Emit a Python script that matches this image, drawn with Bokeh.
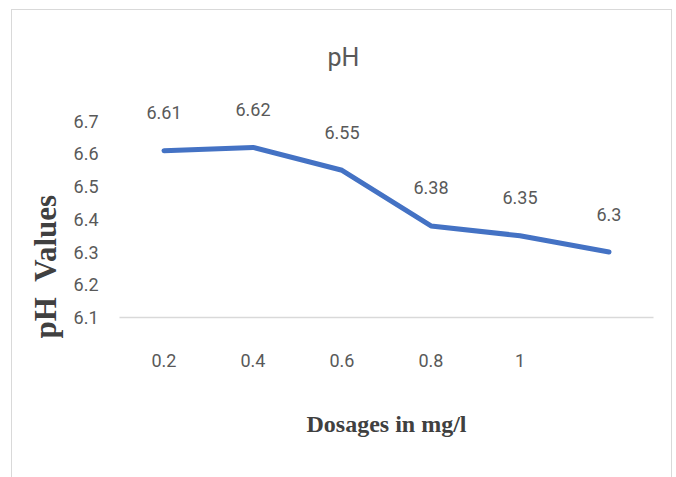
from bokeh.plotting import figure
from bokeh.models import ColumnDataSource, LabelSet, FixedTicker, Title
from bokeh.core.properties import value
from bokeh.embed import file_html
from bokeh.resources import INLINE

# Dosage categories (last point carries no tick label) and measured pH
dosages = ["0.2", "0.4", "0.6", "0.8", "1", " "]
ph_values = [6.61, 6.62, 6.55, 6.38, 6.35, 6.30]
ph_labels = ["6.61", "6.62", "6.55", "6.38", "6.35", "6.3"]
y_ticks = [6.1, 6.2, 6.3, 6.4, 6.5, 6.6, 6.7]

SANS = "Roboto"
SERIF = "Liberation Serif"
GREY_TXT = "#595959"
AXIS_TXT = "#404040"
FRAME_GREY = "#D9D9D9"

src = ColumnDataSource(dict(x=dosages, y=ph_values, lab=ph_labels))

# the y range runs a little above the top tick so the value labels have room
p = figure(width=661, height=468, x_range=dosages, y_range=(6.1, 6.8),
           output_backend="svg", toolbar_location=None,
           min_border_left=107, min_border_right=20,
           min_border_top=78, min_border_bottom=161,
           margin=(9, 0, 0, 11),
           styles={"border-top": f"1.5px solid {FRAME_GREY}",
                   "border-left": f"1.5px solid {FRAME_GREY}",
                   "border-right": f"1.5px solid {FRAME_GREY}"})

p.background_fill_color = "white"
p.border_fill_color = "white"
p.outline_line_color = None
p.xgrid.grid_line_color = None
p.ygrid.grid_line_color = None

# chart title
p.title.text = "pH"
p.title.align = "left"
p.title.offset = 208
p.title.standoff = 34
p.title.text_font = SANS
p.title.text_font_size = "25px"
p.title.text_font_style = "normal"
p.title.text_color = GREY_TXT

# x axis
xa = p.xaxis[0]
xa.axis_line_color = FRAME_GREY
xa.axis_line_width = 1.5
xa.major_tick_line_color = None
xa.minor_tick_line_color = None
xa.major_label_standoff = 26
xa.major_label_text_font = SANS
xa.major_label_text_font_size = "18px"
xa.major_label_text_color = GREY_TXT
xa.axis_label = "Dosages in mg/l"
xa.axis_label_text_font = SERIF
xa.axis_label_text_font_style = "bold"
xa.axis_label_text_font_size = "24px"
xa.axis_label_text_color = AXIS_TXT
xa.axis_label_standoff = 37

# y axis
ya = p.yaxis[0]
ya.ticker = FixedTicker(ticks=y_ticks)
ya.axis_line_color = None
ya.major_tick_line_color = None
ya.minor_tick_line_color = None
ya.major_label_standoff = 15
ya.major_label_text_font = SANS
ya.major_label_text_font_size = "18px"
ya.major_label_text_color = GREY_TXT

# vertical axis title, set as a side title so it can sit off-centre
p.add_layout(Title(text="pH\u00a0\u00a0Values", align="left", offset=-21,
                   standoff=16, text_font=SERIF, text_font_style="bold",
                   text_font_size="31px", text_color=AXIS_TXT), "left")

# series line
p.line("x", "y", source=src, line_color="#4472C4", line_width=5,
       line_cap="round", line_join="round")

# value labels above each point
p.add_layout(LabelSet(x="x", y="y", text="lab", source=src,
                      y_offset=38, text_align="center", text_baseline="middle",
                      text_font=value(SANS), text_font_size="18px",
                      text_color=GREY_TXT))

open("out.html", "w").write(file_html(p, INLINE))
